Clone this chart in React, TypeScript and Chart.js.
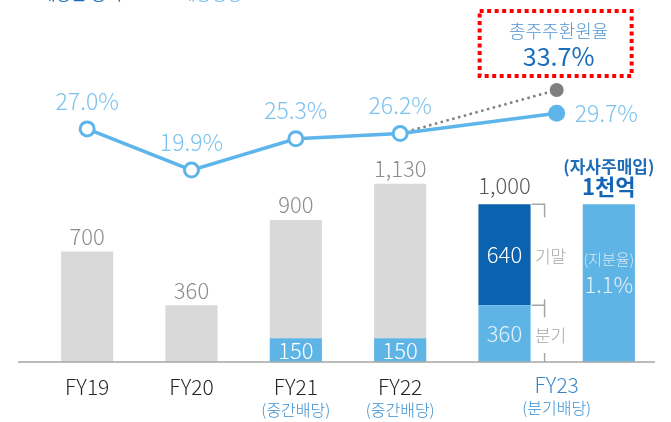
import React, { useEffect, useRef } from "react";
import { Chart, registerables } from "chart.js";

Chart.register(...registerables);

// ---- data ----
const categories = ["FY19", "FY20", "FY21", "FY22", "FY23", "FY23 자사주"];
const fiscalYears = ["FY19", "FY20", "FY21", "FY22", "FY23"];
const subLabels = ["", "", "(중간배당)", "(중간배당)", "(분기배당)"];
const totalDividend = [700, 360, 900, 1130, 1000];
const interimDividend = [null, null, 150, 150, 360];
const yearEndDividend = [null, null, null, null, 640];
const buybackAmount = [null, null, null, null, null, 1000];
const payoutRatio = [27.0, 19.9, 25.3, 26.2, 29.7];
const totalReturnRatio = 33.7;
const buybackTitle = "(자사주매입)";
const buybackText = "1천억";
const stakeTitle = "(지분율)";
const stakeText = "1.1%";
const totalReturnTitle = "총주주환원율";
const legendTexts = ["배당금 총액", "배당성향"];

const FONT = "'Noto Sans CJK KR', 'Noto Sans', sans-serif";
const f = (size: number, weight = 400) => `${weight} ${size}px ${FONT}`;

const LIGHT = "#5fb4e6";
const DARK = "#0b63b0";
const GRAY = "#d9d9d9";
const LINE = "#5db5ea";

const fmt = (v: number) => v.toLocaleString("en-US");

const annotations = {
  id: "annotations",
  afterDatasetsDraw(chart: any) {
    const ctx = chart.ctx as CanvasRenderingContext2D;
    const light = chart.getDatasetMeta(0).data;
    const dark = chart.getDatasetMeta(1).data;
    const gray = chart.getDatasetMeta(2).data;
    const bb = chart.getDatasetMeta(3).data;
    const dot = chart.getDatasetMeta(4).data;
    const line = chart.getDatasetMeta(5).data;
    const base = chart.chartArea.bottom;
    ctx.save();

    // partial legend at very top
    ctx.textBaseline = "alphabetic";
    ctx.textAlign = "left";
    ctx.font = f(17);
    ctx.fillStyle = "#1f6cb8";
    ctx.fillText(legendTexts[0], 40, 0);
    ctx.fillStyle = "#7cc2ee";
    ctx.fillText(legendTexts[1], 180, 0);
    ctx.textAlign = "center";
    ctx.textBaseline = "middle";

    // baseline
    ctx.strokeStyle = "#a6a6a6";
    ctx.lineWidth = 1.5;
    ctx.beginPath();
    ctx.moveTo(18, base);
    ctx.lineTo(655, base);
    ctx.stroke();

    // totals above bars
    for (let i = 0; i < 4; i++) {
      const el = gray[i];
      ctx.font = f(22, 300);
      ctx.fillStyle = "#8c8c8c";
      ctx.fillText(fmt(totalDividend[i]), el.x, el.y - 15);
      if (interimDividend[i] != null) {
        const le = light[i];
        ctx.fillStyle = "#ffffff";
        ctx.fillText(String(interimDividend[i]), le.x, (le.y + le.base) / 2);
      }
    }
    // FY23
    const d4 = dark[4];
    const l4 = light[4];
    ctx.font = f(22, 300);
    ctx.fillStyle = "#595959";
    ctx.fillText(fmt(totalDividend[4]), d4.x, d4.y - 19);
    ctx.fillStyle = "#ffffff";
    ctx.fillText(String(yearEndDividend[4]), d4.x, (d4.y + d4.base) / 2);
    ctx.fillStyle = "#e4f2fb";
    ctx.fillText(String(interimDividend[4]), l4.x, (l4.y + l4.base) / 2);

    // brackets and 기말/분기
    const r = d4.x + d4.width / 2;
    ctx.strokeStyle = "#a6a6a6";
    ctx.lineWidth = 1.5;
    ctx.beginPath();
    ctx.moveTo(r + 1, d4.y);
    ctx.lineTo(r + 14, d4.y);
    ctx.lineTo(r + 14, d4.y + 13);
    ctx.moveTo(r + 1, l4.y);
    ctx.lineTo(r + 14, l4.y);
    ctx.moveTo(r + 14, l4.y - 6);
    ctx.lineTo(r + 14, l4.y + 12);
    ctx.moveTo(r + 14, base - 9);
    ctx.lineTo(r + 14, base);
    ctx.stroke();
    ctx.font = f(17, 300);
    ctx.fillStyle = "#a6a6a6";
    ctx.fillText("기말", r + 20, (d4.y + d4.base) / 2 + 2);
    ctx.fillText("분기", r + 20, (l4.y + l4.base) / 2 + 2);

    // buyback
    const b = bb[5];
    ctx.font = f(17, 700);
    ctx.fillStyle = "#1f6cb8";
    ctx.fillText(buybackTitle, b.x, b.y - 38);
    ctx.font = f(22, 700);
    ctx.fillStyle = "#1565b5";
    ctx.fillText(buybackText, b.x, b.y - 18);
    ctx.font = f(15, 300);
    ctx.fillStyle = "#d3e9f8";
    ctx.fillText(stakeTitle, b.x, b.y + 55);
    ctx.font = f(22, 300);
    ctx.fillStyle = "#e4f2fb";
    ctx.fillText(stakeText, b.x, b.y + 80);

    // line labels
    ctx.font = f(23, 300);
    ctx.fillStyle = "#7cc2ee";
    for (let i = 0; i < 4; i++) {
      const p = line[i];
      ctx.fillText(payoutRatio[i].toFixed(1) + "%", p.x, p.y - 28);
    }
    const p4 = line[4];
    ctx.textAlign = "left";
    ctx.fillText(payoutRatio[4].toFixed(1) + "%", p4.x + 18, p4.y);
    ctx.textAlign = "center";

    // total return box
    const g = dot[1];
    const bw = 152;
    const bh = 65;
    const bx = g.x - bw / 2 - 1;
    const by = g.y - 14 - bh;
    ctx.strokeStyle = "#ff0000";
    ctx.lineWidth = 4;
    ctx.setLineDash([4, 3.5]);
    ctx.strokeRect(bx, by, bw, bh);
    ctx.setLineDash([]);
    ctx.font = f(18, 300);
    ctx.fillStyle = "#4f94d4";
    ctx.fillText(totalReturnTitle, g.x + 2, by + 20);
    ctx.font = f(25, 400);
    ctx.fillStyle = "#1a6ebd";
    ctx.fillText(totalReturnRatio.toFixed(1) + "%", g.x + 2, by + 45);

    // x labels
    for (let i = 0; i < 5; i++) {
      const x = i < 4 ? gray[i].x : (dark[4].x + bb[5].x) / 2;
      const isLast = i === 4;
      ctx.font = f(21, 300);
      ctx.fillStyle = isLast ? "#3a86c8" : "#262626";
      ctx.fillText(fiscalYears[i], x, isLast ? 385 : 387);
      if (subLabels[i]) {
        ctx.font = f(16, 300);
        ctx.fillStyle = "#3a8fd0";
        ctx.fillText(subLabels[i], x, isLast ? 408 : 410);
      }
    }
    ctx.restore();
  },
};

export default function App() {
  const ref = useRef<HTMLCanvasElement | null>(null);
  useEffect(() => {
    document.body.style.margin = "0";
    const canvas = ref.current;
    if (!canvas) return;
    const grayPart = categories.map((_, i) =>
      i < 4 ? totalDividend[i] - (interimDividend[i] ?? 0) : null
    );
    const linePos = payoutRatio.map((_, i) => (i < 4 ? i : (4 + 5) / 2));
    const lineData = payoutRatio.map((v, i) => ({ x: linePos[i], y: v }));
    const dotData = [
      { x: linePos[3], y: payoutRatio[3] },
      { x: linePos[4], y: totalReturnRatio },
    ];
    const barCommon = {
      type: "bar" as const,
      xAxisID: "x",
      yAxisID: "y",
      stack: "s",
      grouped: false,
      barPercentage: 0.5,
      categoryPercentage: 1.0,
      borderWidth: 0,
      order: 2,
    };
    const chart = new Chart(canvas, {
      type: "bar",
      data: {
        labels: categories,
        datasets: [
          { ...barCommon, label: "분기/중간", data: [...interimDividend, null], backgroundColor: LIGHT },
          { ...barCommon, label: "기말", data: [...yearEndDividend, null], backgroundColor: DARK },
          { ...barCommon, label: "배당", data: grayPart, backgroundColor: GRAY },
          { ...barCommon, label: "자사주매입", data: buybackAmount, backgroundColor: LIGHT },
          {
            type: "line",
            label: "총주주환원율",
            xAxisID: "x2",
            yAxisID: "y2",
            data: dotData,
            borderColor: "#7f7f7f",
            borderWidth: 2.5,
            borderDash: [2.5, 3.5],
            pointRadius: [0, 7],
            pointBackgroundColor: "#7f7f7f",
            pointBorderWidth: 0,
            order: 1,
          } as any,
          {
            type: "line",
            label: "배당성향",
            xAxisID: "x2",
            yAxisID: "y2",
            data: lineData,
            borderColor: LINE,
            borderWidth: 3.5,
            pointRadius: 7,
            pointBorderWidth: 3,
            pointBorderColor: LINE,
            pointBackgroundColor: ["#fff", "#fff", "#fff", "#fff", LINE],
            order: 0,
          } as any,
        ],
      },
      options: {
        responsive: false,
        animation: false,
        devicePixelRatio: 1,
        layout: { padding: { left: 35, right: 0, top: 10, bottom: 60 } },
        plugins: { legend: { display: false }, tooltip: { enabled: false } },
        scales: {
          x: { type: "category", stacked: true, display: false, offset: true },
          x2: {
            type: "linear",
            display: false,
            offset: false,
            grace: 0,
            min: -0.5,
            max: categories.length - 0.5,
          },
          y: { stacked: true, display: false, min: 0, max: 2230 },
          y2: { display: false, min: -13.2, max: 47.5 },
        },
      } as any,
      plugins: [annotations],
    });
    return () => chart.destroy();
  }, []);
  return <canvas ref={ref} width={671} height={422} style={{ display: "block" }} />;
}
